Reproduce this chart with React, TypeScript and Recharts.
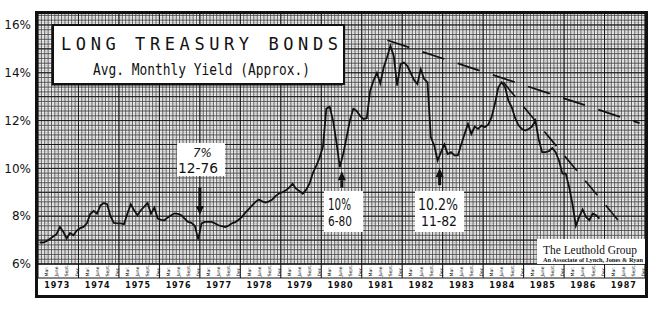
import React from 'react';
import { LineChart, Line, XAxis, YAxis, CartesianGrid, ReferenceLine } from 'recharts';

// avg monthly yield (Jan of each year first)
const y1973 = [6.9, 6.9, 6.95, 7.05, 7.15, 7.25, 7.55, 7.35, 7.07, 7.3, 7.2, 7.4];
const y1974 = [7.5, 7.55, 7.7, 8.1, 8.22, 8.1, 8.45, 8.55, 8.5, 8.0, 7.72, 7.7];
const y1975 = [7.7, 7.67, 8.1, 8.5, 8.25, 8.04, 8.25, 8.4, 8.55, 8.1, 8.36, 7.9];
const y1976 = [7.85, 7.83, 7.95, 8.04, 8.12, 8.1, 8.04, 7.9, 7.76, 7.72, 7.6, 7.03];
const y1977 = [7.7, 7.76, 7.76, 7.76, 7.7, 7.62, 7.58, 7.55, 7.6, 7.7, 7.75, 7.85];
const y1978 = [7.97, 8.15, 8.3, 8.45, 8.6, 8.7, 8.62, 8.57, 8.62, 8.7, 8.85, 8.95];
const y1979 = [9.0, 9.08, 9.2, 9.36, 9.15, 9.05, 8.94, 9.1, 9.36, 9.8, 10.1, 10.45];
const y1980 = [10.9, 12.5, 12.58, 12.0, 11.1, 10.05, 10.6, 11.3, 12.0, 12.5, 12.4, 12.2];
const y1981 = [12.07, 12.1, 13.25, 13.67, 14.0, 13.55, 14.22, 14.65, 15.12, 14.7, 13.46, 14.36];
const y1982 = [14.43, 14.29, 14.0, 13.7, 13.53, 14.15, 13.74, 13.6, 11.3, 10.96, 10.33, 10.68];
const y1983 = [11.0, 10.6, 10.68, 10.54, 10.54, 11.0, 11.44, 11.86, 11.44, 11.75, 11.65, 11.79];
const y1984 = [11.72, 11.83, 12.14, 12.7, 13.39, 13.6, 13.39, 12.83, 12.55, 12.1, 11.8, 11.65];
const y1985 = [11.58, 11.65, 11.75, 12.0, 11.2, 10.68, 10.68, 10.72, 10.85, 10.68, 10.33, 9.78];
const y1986 = [9.78, 9.22, 8.5, 7.6, 7.97, 8.28, 7.97, 7.83, 8.11, 8.04, 7.9];

const years = ['1973', '1974', '1975', '1976', '1977', '1978', '1979', '1980',
  '1981', '1982', '1983', '1984', '1985', '1986', '1987'];
const monthLabels = ['Mar.', 'June', 'Sept.', 'Dec.'];
const yTicks = [6, 8, 10, 12, 14, 16];

// dashed trend lines (x = months since Jan 1973)
const trendLong = [{ x: 103.6, y: 15.36 }, { x: 178.4, y: 11.89 }];
const trendSteep = [{ x: 138.0, y: 13.6 }, { x: 173.8, y: 7.53 }];

// annotation arrows: [tail, tip]
const arrows = [
  [{ x: 48.0, y: 9.2 }, { x: 48.0, y: 8.05 }],
  [{ x: 90.1, y: 9.2 }, { x: 90.1, y: 9.88 }],
  [{ x: 119.1, y: 9.3 }, { x: 119.1, y: 10.02 }],
];

const series = [y1973, y1974, y1975, y1976, y1977, y1978, y1979, y1980,
  y1981, y1982, y1983, y1984, y1985, y1986].flat();
const data = series.map((v, i) => ({ x: i + 0.5, v }));

const X_MAX = 180;
const Y_MIN = 6;
const Y_MAX = 16.5;

// one axis draws the month strip (separators + rotated month names) and the year row
const axisTicks: number[] = [];
for (let k = 0; k <= 15; k++) {
  axisTicks.push(k * 12);
  if (k < 15) {
    [2.5, 5.5, 8.5, 11.5].forEach((m) => axisTicks.push(k * 12 + m));
    axisTicks.push(k * 12 + 6);
  }
}
const gridHalfMonths = Array.from({ length: X_MAX * 2 + 1 }, (_, i) => i / 2);
const gridMonths = Array.from({ length: X_MAX + 1 }, (_, i) => i);
const gridYears = Array.from({ length: 16 }, (_, i) => i * 12);
const gridTenths = Array.from({ length: 106 }, (_, i) => Y_MIN + i * 0.1);
const gridFifths = Array.from({ length: 53 }, (_, i) => Y_MIN + i * 0.2);
const gridWhole = Array.from({ length: 11 }, (_, i) => Y_MIN + i);

const vGen = (ticks: number[]) => ({ xAxis, offset }: any) =>
  ticks.map((t) =>
    xAxis && typeof xAxis.scale === 'function'
      ? xAxis.scale(t)
      : offset.left + (t / X_MAX) * offset.width
  );
const hGen = (ticks: number[]) => ({ yAxis, offset }: any) =>
  ticks.map((t) =>
    yAxis && typeof yAxis.scale === 'function'
      ? yAxis.scale(t)
      : offset.top + offset.height - ((t - Y_MIN) / (Y_MAX - Y_MIN)) * offset.height
  );

const AxisTick = (props: any) => {
  const { x, y, payload } = props;
  const v = payload.value;
  if (v % 12 === 0) {
    return <line x1={x} x2={x} y1={y} y2={y + 14} stroke="#111" strokeWidth={1} />;
  }
  if (v % 1 !== 0) {
    const idx = Math.round(((v % 12) - 2.5) / 3);
    return (
      <text
        transform={`translate(${x + 1.8},${y + 12.5}) rotate(-90)`}
        fontSize={4.6}
        fontFamily="DejaVu Sans"
        fill="#111"
      >
        {monthLabels[idx]}
      </text>
    );
  }
  const label = years[Math.round((v - 6) / 12)];
  return (
    <text
      x={x - 14}
      y={y + 24}
      fontSize={8}
      fontWeight="bold"
      fontFamily="DejaVu Sans"
      fill="#111"
      textLength={25}
      lengthAdjust="spacing"
    >
      {label}
    </text>
  );
};

const ArrowShape = (props: any) => {
  const { x1, y1, x2, y2 } = props;
  const dir = y2 > y1 ? 1 : -1;
  const base = y2 - dir * 9;
  return (
    <g>
      <line x1={x1} y1={y1} x2={x2} y2={base} stroke="#111" strokeWidth={3} />
      <polygon points={`${x2},${y2} ${x2 - 4},${base} ${x2 + 4},${base}`} fill="#111" />
    </g>
  );
};

const Overlay = () => (
  <svg
    width={658}
    height={311}
    style={{ position: 'absolute', left: 0, top: 0, pointerEvents: 'none' }}
  >
    {/* title, with the heavier left/bottom edge of the original */}
    <rect x={51.5} y={26.5} width={291} height={59} fill="#111" />
    <rect x={53} y={25} width={291} height={59} fill="#fff" stroke="#111" strokeWidth={2} />
    <text x={61} y={50} fontSize={17} fontFamily="DejaVu Sans Mono" fill="#111"
      textLength={277} lengthAdjust="spacing">LONG TREASURY BONDS</text>
    <text x={93} y={75} fontSize={16} fontFamily="DejaVu Sans Mono" fill="#111"
      textLength={217} lengthAdjust="spacingAndGlyphs">Avg. Monthly Yield (Approx.)</text>

    {/* 7% 12-76 */}
    <rect x={177} y={143} width={48} height={33} fill="#fff" />
    <text x={193} y={157} fontSize={13} fontStyle="italic" fontFamily="DejaVu Sans" fill="#111"
      textLength={19} lengthAdjust="spacingAndGlyphs">7%</text>
    <text x={178} y={173} fontSize={14} fontFamily="DejaVu Sans" fill="#111"
      textLength={40} lengthAdjust="spacingAndGlyphs">12-76</text>

    {/* 10% 6-80 */}
    <rect x={324} y={191} width={39} height={41} fill="#fff" />
    <text x={328} y={210} fontSize={16} fontFamily="DejaVu Sans" fill="#111"
      textLength={23} lengthAdjust="spacingAndGlyphs">10%</text>
    <text x={328} y={226} fontSize={14} fontFamily="DejaVu Sans" fill="#111"
      textLength={24} lengthAdjust="spacingAndGlyphs">6-80</text>

    {/* 10.2% 11-82 */}
    <rect x={415} y={191} width={49} height={41} fill="#fff" />
    <text x={418} y={210} fontSize={16} fontFamily="DejaVu Sans" fill="#111"
      textLength={40} lengthAdjust="spacingAndGlyphs">10.2%</text>
    <text x={421} y={226} fontSize={14} fontFamily="DejaVu Sans" fill="#111"
      textLength={36} lengthAdjust="spacingAndGlyphs">11-82</text>

    {/* logo */}
    <rect x={537} y={239} width={108} height={25} fill="#fff" />
    <text x={543} y={254} fontSize={13} fontFamily="Liberation Serif" fill="#111"
      textLength={94} lengthAdjust="spacingAndGlyphs">The Leuthold Group</text>
    <text x={543} y={262} fontSize={5.5} fontWeight="bold" fontFamily="Liberation Serif" fill="#111"
      textLength={100} lengthAdjust="spacingAndGlyphs">An Associate of Lynch, Jones &amp; Ryan</text>

    {/* strip / year row divider and frame */}
    <line x1={37} x2={646} y1={278} y2={278} stroke="#111" strokeWidth={1.2} />
    <rect x={36.5} y={12.5} width={610} height={284} fill="none" stroke="#111" strokeWidth={3} />
  </svg>
);

export default function App() {
  return (
    <div style={{ position: 'absolute', left: 0, top: 0, width: 658, height: 311, background: '#fff' }}>
      <LineChart width={658} height={311} data={data} margin={{ top: 13, right: 13, bottom: 13, left: 0 }}>
        <XAxis
          dataKey="x"
          type="number"
          domain={[0, X_MAX]}
          ticks={axisTicks}
          interval={0}
          tick={<AxisTick />}
          tickLine={false}
          tickSize={0}
          tickMargin={0}
          axisLine={{ stroke: '#111', strokeWidth: 1.2 }}
          height={34}
          allowDataOverflow
        />
        <YAxis
          type="number"
          domain={[Y_MIN, Y_MAX]}
          ticks={yTicks}
          interval={0}
          tickFormatter={(v) => `${v}%`}
          tick={{ fontSize: 12, fill: '#111', fontFamily: 'DejaVu Sans' }}
          tickLine={false}
          axisLine={false}
          tickMargin={7}
          tickSize={0}
          width={38}
          allowDataOverflow
        />
        {/* graph paper: faint sub-lines, dark mesh, heavier year / whole-% lines */}
        <CartesianGrid
          verticalCoordinatesGenerator={vGen(gridHalfMonths)}
          horizontalCoordinatesGenerator={hGen(gridTenths)}
          stroke="#b8b8b8"
          strokeWidth={0.5}
        />
        <CartesianGrid
          verticalCoordinatesGenerator={vGen(gridMonths)}
          horizontalCoordinatesGenerator={hGen(gridFifths)}
          stroke="#3a3a3a"
          strokeWidth={0.75}
        />
        <CartesianGrid
          verticalCoordinatesGenerator={vGen(gridYears)}
          horizontalCoordinatesGenerator={hGen(gridWhole)}
          stroke="#111"
          strokeWidth={0.9}
        />
        <ReferenceLine segment={trendLong} stroke="#111" strokeWidth={1.8} strokeDasharray="23 14" />
        <ReferenceLine segment={trendSteep} stroke="#111" strokeWidth={1.6} strokeDasharray="19 13" />
        {arrows.map((seg, i) => (
          <ReferenceLine key={i} segment={seg} shape={ArrowShape} />
        ))}
        <Line
          type="linear"
          dataKey="v"
          stroke="#111"
          strokeWidth={1.8}
          dot={false}
          isAnimationActive={false}
        />
      </LineChart>
      <Overlay />
    </div>
  );
}
